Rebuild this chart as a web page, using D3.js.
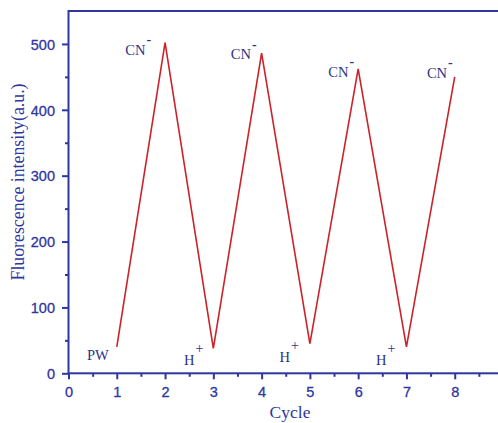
<!DOCTYPE html>
<html>
<head>
<meta charset="utf-8">
<script src="https://cdn.jsdelivr.net/npm/d3@7"></script>
<style>
  html, body { margin: 0; padding: 0; background: #fff; overflow: hidden; }
  svg { display: block; }
</style>
</head>
<body>
<svg id="chart" width="498" height="423"></svg>
<script>
// Fluorescence response over alternating CN- / H+ additions
const cycles = [1, 2, 3, 4, 5, 6, 7, 8];
const intensity = [40, 502, 38, 486, 45, 462, 40, 450];
const pointLabels = ["PW", "CN", "H", "CN", "H", "CN", "H", "CN"];
const pointSups = ["", "-", "+", "-", "+", "-", "+", "-"];
const xTicks = [0, 1, 2, 3, 4, 5, 6, 7, 8];
const yTicks = [0, 100, 200, 300, 400, 500];

const axisColor = "#3036a0";
const textColor = "#2c3288";
const lineColor = "#cc2229";

const svg = d3.select("#chart");
const plotLeft = 68.5, plotRight = 503, plotTop = 11, plotBottom = 373.3;

const x = d3.scaleLinear().domain([0, 9]).range([plotLeft, plotRight]);
const y = d3.scaleLinear().domain([0, 550]).range([plotBottom, plotTop]);

// frame
svg.append("rect")
  .attr("x", plotLeft).attr("y", plotTop)
  .attr("width", plotRight - plotLeft).attr("height", plotBottom - plotTop)
  .attr("fill", "none").attr("stroke", axisColor).attr("stroke-width", 2);

// minor ticks
const xMinor = d3.range(0.5, 9, 1);
const yMinor = d3.range(50, 550, 100);

const xAxis = svg.append("g").attr("transform", `translate(0,${plotBottom})`)
  .call(d3.axisBottom(x).tickValues(xTicks).tickSize(6).tickPadding(7).tickFormat(d3.format("d")));
const xAxisMinor = svg.append("g").attr("transform", `translate(0,${plotBottom})`)
  .call(d3.axisBottom(x).tickValues(xMinor).tickSize(3.5).tickFormat(""));

const yAxis = svg.append("g").attr("transform", `translate(${plotLeft},0)`)
  .call(d3.axisLeft(y).tickValues(yTicks).tickSize(6.5).tickPadding(7).tickFormat(d3.format("d")));
const yAxisMinor = svg.append("g").attr("transform", `translate(${plotLeft},0)`)
  .call(d3.axisLeft(y).tickValues(yMinor).tickSize(3.5).tickFormat(""));

[xAxis, xAxisMinor, yAxis, yAxisMinor].forEach(g => {
  g.select(".domain").remove();
  g.selectAll(".tick line").attr("stroke", axisColor).attr("stroke-width", 2);
  g.selectAll(".tick text")
    .attr("fill", axisColor)
    .attr("stroke", axisColor)
    .attr("stroke-width", 0.3)
    .style("font-family", "Liberation Sans, Arial, sans-serif")
    .style("font-size", "14.5px");
});
yAxis.selectAll(".tick text").attr("dy", "0.36em");

// data line
const line = d3.line().x((d, i) => x(cycles[i])).y(d => y(d));
svg.append("path")
  .datum(intensity)
  .attr("d", line)
  .attr("fill", "none")
  .attr("stroke", lineColor)
  .attr("stroke-width", 1.6)
  .attr("stroke-linejoin", "miter");

// point annotations (label offsets relative to each point)
const labelDx = [-8, -14, -10, -5, -11, -4, -11, -2];
const labelDy = [13, 12, 17, 6, 18, 8, 18, 1];
const ann = svg.append("g")
  .style("font-family", "Liberation Serif, Times New Roman, serif")
  .attr("fill", textColor);
cycles.forEach((c, i) => {
  const t = ann.append("text")
    .attr("x", x(c) + labelDx[i])
    .attr("y", y(intensity[i]) + labelDy[i])
    .attr("text-anchor", "end")
    .style("font-size", "14.5px");
  t.append("tspan").text(pointLabels[i]);
  if (pointSups[i]) {
    t.append("tspan")
      .attr("dy", pointSups[i] === "+" ? "-0.85em" : "-0.75em")
      .attr("dx", "1")
      .style("font-size", pointSups[i] === "+" ? "14px" : "14px")
      .style("font-weight", pointSups[i] === "-" ? "bold" : "normal")
      .text(pointSups[i]);
  }
});

// axis titles
svg.append("text")
  .attr("x", 290)
  .attr("y", 418)
  .attr("text-anchor", "middle")
  .attr("fill", axisColor)
  .style("font-family", "Liberation Serif, Times New Roman, serif")
  .style("font-size", "17.5px")
  .text("Cycle");

svg.append("text")
  .attr("transform", "translate(24,182) rotate(-90)")
  .attr("text-anchor", "middle")
  .attr("fill", axisColor)
  .style("font-family", "Liberation Serif, Times New Roman, serif")
  .style("font-size", "17.8px")
  .text("Fluorescence intensity(a.u.)");
</script>
</body>
</html>
